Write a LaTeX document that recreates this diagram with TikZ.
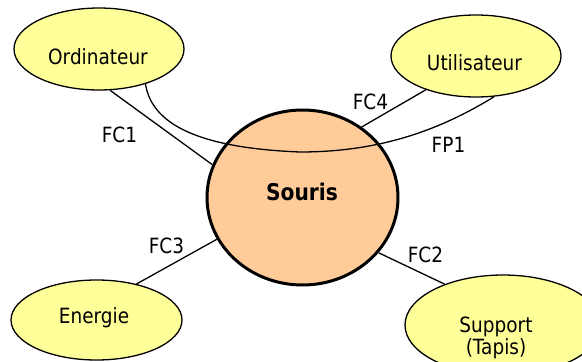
\documentclass[tikz,border=0pt]{standalone}
\usepackage{fontspec}
\setmainfont{DejaVu Sans}[FakeStretch=0.88]
\usetikzlibrary{shapes.geometric}
\definecolor{ellyellow}{HTML}{FFFF99}
\definecolor{peach}{HTML}{FFCC99}
\tikzset{
  actor/.style={ellipse, draw=black, fill=ellyellow, line width=1.3pt, inner sep=0pt},
  mainobj/.style={ellipse, draw=black, fill=peach, line width=3pt, inner sep=0pt},
  conn/.style={draw=black, line width=1.3pt},
  lbl/.style={anchor=base, inner sep=0pt, font=\fontsize{21}{23}\selectfont},
}
\begin{document}
\begin{tikzpicture}[x=1pt,y=-1pt]
\useasboundingbox (0,0) rectangle (582,362);
% shapes
\node[actor, minimum width=170pt, minimum height=82pt] (ord) at (99,49) {};
\node[actor, minimum width=170pt, minimum height=82pt] (uti) at (476,56) {};
\node[actor, minimum width=171pt, minimum height=80pt] (ene) at (96.5,320) {};
\node[actor, minimum width=196pt, minimum height=100pt] (sup) at (503,325) {};
\node[mainobj, minimum width=191pt, minimum height=175pt] (sou) at (302.5,197.5) {};
% connectors
\draw[conn] (ord.-75) -- (sou.160);
\draw[conn] (uti.214) -- (sou.50);
\draw[conn] (ene.42) -- (sou.206);
\draw[conn] (sou.-36) -- (sup.145.5);
\draw[conn] (ord.-37) .. controls (152,125) and (200,148) .. (300,152)
            .. controls (380,152) and (440,130) .. (uti.-66);
% texts
\node[lbl] (tord) at (98,64) {Ordinateur};
\node[lbl] (tuti) at (474.5,70) {Utilisateur};
\node[lbl] (tene) at (94,323) {Energie};
\node[lbl] (tsup1) at (496,332) {Support};
\node[lbl] (tsup2) at (496,354) {(Tapis)};
\node[lbl, font=\fontsize{23}{25}\selectfont\bfseries] (tsou) at (302,200) {Souris};
\node[lbl] (lfc1) at (119.5,142) {FC1};
\node[lbl] (lfc4) at (370.5,109) {FC4};
\node[lbl] (lfp1) at (448.5,152) {FP1};
\node[lbl] (lfc3) at (166.5,253) {FC3};
\node[lbl] (lfc2) at (425.5,262) {FC2};
\end{tikzpicture}
\end{document}
